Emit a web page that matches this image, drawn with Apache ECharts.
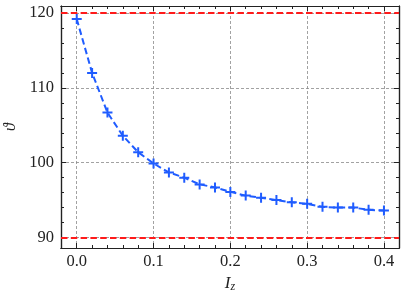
<!DOCTYPE html>
<html><head><meta charset="utf-8">
<script src="https://cdn.jsdelivr.net/npm/echarts@6/dist/echarts.min.js"></script>
<style>html,body{margin:0;padding:0;background:#fff}#c{width:406px;height:299px}</style>
</head><body><div id="c"></div>
<script>
const xValues = [0, 0.02, 0.04, 0.06, 0.08, 0.1, 0.12, 0.14, 0.16, 0.18, 0.2, 0.22, 0.24, 0.26, 0.28, 0.3, 0.32, 0.34, 0.36, 0.38, 0.4];
const thetaValues = [119.2, 112.0, 106.7, 103.6, 101.4, 99.9, 98.7, 98.0, 97.1, 96.7, 96.1, 95.6, 95.3, 95.0, 94.7, 94.5, 94.1, 94.0, 94.0, 93.7, 93.6];
const refLines = [90, 120];
const xMajorTicks = [0, 0.1, 0.2, 0.3, 0.4];
const xMinorTicks = [0.02, 0.04, 0.06, 0.08, 0.12, 0.14, 0.16, 0.18, 0.22, 0.24, 0.26, 0.28, 0.32, 0.34, 0.36, 0.38];
const yMajorTicks = [90, 100, 110, 120];
const yMinorTicks = [92, 94, 96, 98, 102, 104, 106, 108, 112, 114, 116, 118, 120];

const FONT = 'Liberation Serif';
const BLUE = '#1f5cff';
const frame = {show: true, onZero: false, lineStyle: {color: '#222', width: 1.2}};
const X_MIN = -0.0205, X_MAX = 0.4196, Y_MIN = 88.6, Y_MAX = 120.94;

function xAx(pos, major, withLabel) {
  return {
    type: 'value', min: X_MIN, max: X_MAX, position: pos, splitNumber: 4,
    axisLine: frame,
    axisTick: {show: true, inside: true, length: major ? 5 : 3, customValues: major ? xMajorTicks : xMinorTicks, lineStyle: {color: '#222', width: 1}},
    axisLabel: withLabel ? {show: true, customValues: xMajorTicks, formatter: v => v.toFixed(1), fontFamily: FONT, fontSize: 16.5, color: '#222', margin: 5} : {show: false},
    splitLine: (major && withLabel) ? {show: true, lineStyle: {color: '#8a8a8a', type: [3, 2], width: 0.8}} : {show: false},
    name: withLabel ? '{i|I}{s|z}' : '',
    nameLocation: 'middle', nameGap: 26,
    nameTextStyle: {rich: {i: {fontFamily: FONT, fontStyle: 'italic', fontSize: 17, color: '#222'}, s: {fontFamily: FONT, fontStyle: 'italic', fontSize: 12, color: '#222', verticalAlign: 'bottom', padding: [6, 0, 0, 0]}}}
  };
}
function yAx(pos, major, withLabel) {
  return {
    type: 'value', min: Y_MIN, max: Y_MAX, position: pos, splitNumber: 3,
    axisLine: frame,
    axisTick: {show: true, inside: true, length: major ? 5 : 3, customValues: major ? yMajorTicks : yMinorTicks, lineStyle: {color: '#222', width: 1}},
    axisLabel: withLabel ? {show: true, customValues: yMajorTicks, fontFamily: FONT, fontSize: 16.5, color: '#222', margin: 7} : {show: false},
    splitLine: (major && withLabel) ? {show: true, lineStyle: {color: '#8a8a8a', type: [3, 2], width: 0.8}} : {show: false},
    name: withLabel ? 'ϑ' : '',
    nameLocation: 'middle', nameGap: 41, nameRotate: 90,
    nameTextStyle: {fontFamily: FONT, fontStyle: 'italic', fontSize: 16, color: '#222'}
  };
}

const chart = echarts.init(document.getElementById('c'), null, {renderer: 'canvas'});
chart.setOption({
  animation: false,
  backgroundColor: '#fff',
  grid: {left: 61, right: 7, top: 6, bottom: 51, containLabel: false, outerBoundsMode: 'none'},
  xAxis: [xAx('bottom', true, true), xAx('bottom', false, false), xAx('top', true, false), xAx('top', false, false)],
  yAxis: [yAx('left', true, true), yAx('left', false, false), yAx('right', true, false), yAx('right', false, false)],
  series: [{
    type: 'line', xAxisIndex: 0, yAxisIndex: 0,
    data: xValues.map((x, i) => [x, thetaValues[i]]),
    symbol: 'path://M5,0L5,10M0,5L10,5', symbolSize: 10,
    itemStyle: {color: 'rgba(0,0,0,0)', borderColor: BLUE, borderWidth: 2},
    lineStyle: {color: BLUE, width: 2, type: [6.5, 3.5]},
    z: 5,
    markLine: {
      silent: true, symbol: 'none', label: {show: false},
      lineStyle: {color: '#ff1a1a', type: [6.5, 3.3], width: 2},
      data: refLines.map(v => ({yAxis: v}))
    }
  }]
});
</script></body></html>
